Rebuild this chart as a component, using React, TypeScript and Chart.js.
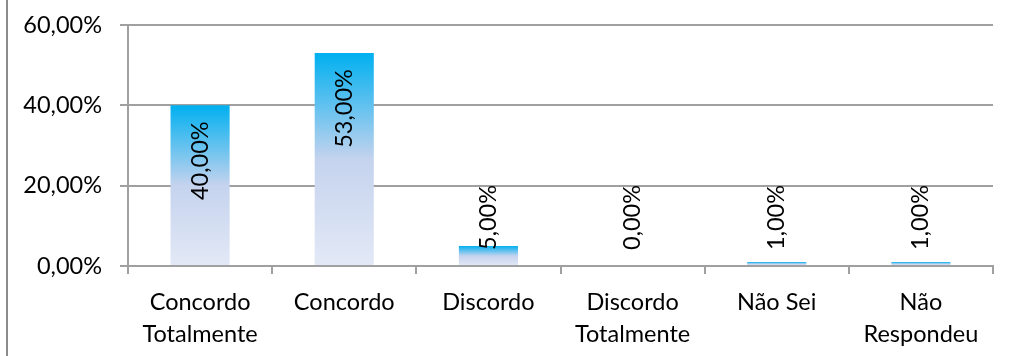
import React, { useEffect, useRef } from "react";
import { Chart, registerables } from "chart.js";

Chart.register(...registerables);

const categories: string[][] = [
  ["Concordo", "Totalmente"],
  ["Concordo"],
  ["Discordo"],
  ["Discordo", "Totalmente"],
  ["Não Sei"],
  ["Não", "Respondeu"],
];
const values: number[] = [40, 53, 5, 0, 1, 1];
const yTicks: number[] = [0, 20, 40, 60];

const FONT = "Lato, 'Open Sans', sans-serif";
const FONT_SIZE = 23.5;
const GRID = "#A0A0A0";

const fmt = (v: number) => v.toFixed(2).replace(".", ",") + "%";

const labelPlugin = {
  id: "rotLabels",
  afterDatasetsDraw(chart: any) {
    const ctx = chart.ctx;
    const meta = chart.getDatasetMeta(0);
    const zeroY = chart.scales.y.getPixelForValue(0);
    ctx.save();
    ctx.font = `${FONT_SIZE}px ${FONT}`;
    ctx.fillStyle = "#000";
    ctx.textBaseline = "middle";
    meta.data.forEach((el: any, i: number) => {
      const txt = fmt(values[i]);
      const w = ctx.measureText(txt).width;
      const h = zeroY - el.y;
      ctx.save();
      if (h > w + 32) {
        ctx.translate(el.x, el.y + 16);
        ctx.rotate(-Math.PI / 2);
        ctx.textAlign = "right";
      } else {
        ctx.translate(el.x, zeroY - 16);
        ctx.rotate(-Math.PI / 2);
        ctx.textAlign = "left";
      }
      ctx.fillText(txt, 0, 0);
      ctx.restore();
    });
    ctx.restore();
  },
};

export default function App() {
  const ref = useRef<HTMLCanvasElement | null>(null);
  useEffect(() => {
    if (!ref.current) return;
    const chart = new Chart(ref.current, {
      type: "bar",
      data: {
        labels: categories,
        datasets: [
          {
            data: values,
            backgroundColor: (c: any) => {
              const ch = c.chart;
              if (!ch.chartArea || c.type !== "data") return "#00B0F0";
              const v = c.raw as number;
              const top = ch.scales.y.getPixelForValue(v);
              const base = ch.scales.y.getPixelForValue(0);
              if (base - top < 1) return "#00B0F0";
              const g = ch.ctx.createLinearGradient(0, top, 0, base);
              g.addColorStop(0, "#00B0F0");
              g.addColorStop(0.5, "#C5D3EE");
              g.addColorStop(1, "#E3E9F6");
              return g;
            },
            borderWidth: 0,
            barPercentage: 0.41,
            categoryPercentage: 1,
          },
        ],
      },
      options: {
        animation: false,
        responsive: false,
        maintainAspectRatio: false,
        layout: { padding: { left: 20, top: 25, right: 18, bottom: 0 } },
        plugins: { legend: { display: false }, tooltip: { enabled: false } },
        scales: {
          x: {
            grid: {
              offset: true,
              drawOnChartArea: false,
              drawTicks: true,
              tickLength: 8,
              color: GRID,
              lineWidth: 2,
            },
            border: { color: GRID, width: 2 },
            ticks: {
              color: "#000",
              padding: 12,
              maxRotation: 0,
              autoSkip: false,
              font: { family: FONT, size: FONT_SIZE, lineHeight: 32 / FONT_SIZE },
            },
            afterFit: (s: any) => {
              s.height = 90;
              s.paddingLeft = 0;
              s.paddingRight = 0;
            },
          },
          y: {
            min: 0,
            max: 60,
            afterBuildTicks: (s: any) => {
              s.ticks = yTicks.map((v) => ({ value: v }));
            },
            grid: { color: GRID, lineWidth: 2, tickLength: 8 },
            border: { color: GRID, width: 2 },
            ticks: {
              color: "#000",
              padding: 18,
              font: { family: FONT, size: FONT_SIZE },
              callback: (v: any) => fmt(Number(v)),
            },
            afterFit: (s: any) => {
              s.width = 108;
              s.paddingTop = 0;
              s.paddingBottom = 0;
            },
          },
        },
      },
      plugins: [labelPlugin],
    });
    return () => chart.destroy();
  }, []);
  return (
    <div style={{ position: "fixed", left: 0, top: 0, width: 1011, height: 356, background: "#fff" }}>
      <div style={{ position: "absolute", left: 6, top: 0, width: 2, height: 356, background: "#8C8C8C" }} />
      <canvas ref={ref} width={1011} height={356} style={{ position: "absolute", left: 0, top: 0 }} />
    </div>
  );
}
